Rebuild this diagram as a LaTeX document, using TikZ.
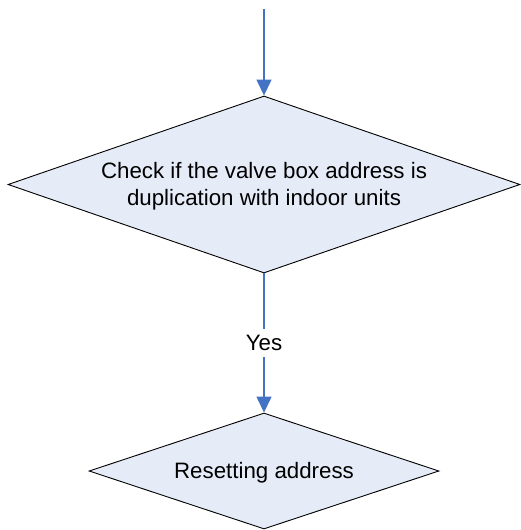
\documentclass[tikz,border=0pt]{standalone}
\usepackage{fontspec}
\setmainfont{Liberation Sans}
\usetikzlibrary{shapes.geometric,arrows.meta}
\definecolor{boxfill}{RGB}{230,236,247}
\definecolor{arrowblue}{RGB}{68,114,196}
\begin{document}
\begin{tikzpicture}[x=1pt,y=-1pt,
  decision/.style={diamond, draw=black, line width=0.9pt, fill=boxfill, inner sep=0pt},
  txt/.style={align=center, font=\fontsize{22.3}{26.7}\selectfont, inner sep=0pt},
  flow/.style={draw=arrowblue, line width=1.4pt, -{Triangle[length=16pt,width=15pt]}}]
\useasboundingbox (0,0) rectangle (520,530);
\coordinate (start) at (264,9);
\node[decision, minimum width=512pt, minimum height=177pt] (d1) at (264,184.5) {};
\node[txt] (t1) at (264,186) {Check if the valve box address is\\duplication with indoor units};
\node[decision, minimum width=350pt, minimum height=116pt] (d2) at (264,471) {};
\node[txt] (t2) at (264,473) {Resetting address};
\draw[flow] (start) -- (d1.north);
\draw[flow] (d1.south) -- node[fill=white, inner sep=6pt, font=\fontsize{22.3}{26.7}\selectfont] (yes) {Yes} (d2.north);
\end{tikzpicture}
\end{document}
